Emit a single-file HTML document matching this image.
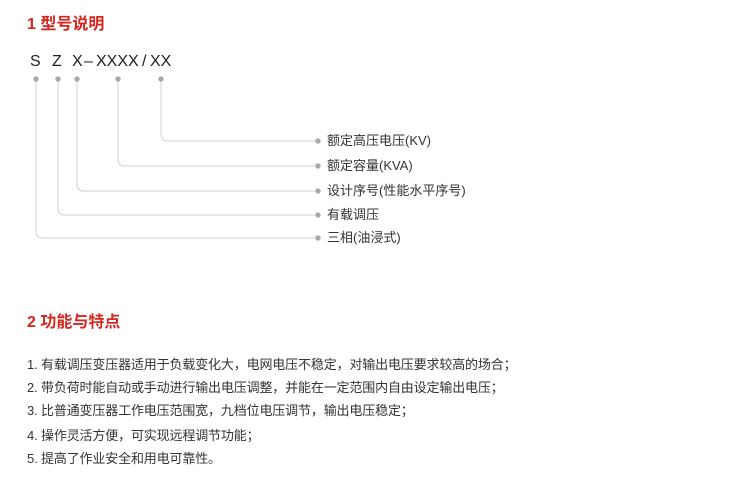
<!DOCTYPE html>
<html><head><meta charset="utf-8"><style>
body{margin:0;width:730px;height:485px;background:#fff;position:relative;overflow:hidden;font-family:"Liberation Sans","Noto Sans CJK SC",sans-serif;color:#333}
.t{position:absolute;left:27px;font-size:16px;font-weight:bold;color:#d7261e;line-height:20px}
.code{position:absolute;left:29px;top:52px;font-size:16px;line-height:20px;color:#222}
.lab{position:absolute;left:327px;font-size:13px;line-height:16px;color:#333}
.li{position:absolute;left:27px;font-size:13px;line-height:16px;color:#333;letter-spacing:-0.15px;white-space:nowrap}
</style></head><body>
<div class="t" style="top:15px">1 型号说明</div>
<div class="code"><span style="position:absolute;left:1px">S</span><span style="position:absolute;left:23px">Z</span><span style="position:absolute;left:43px">X</span><span style="position:absolute;left:55px">–</span><span style="position:absolute;left:67px">XXXX</span><span style="position:absolute;left:113px">/</span><span style="position:absolute;left:121px">XX</span></div>
<svg width="730" height="485" style="position:absolute;left:0;top:0" fill="none" stroke="#d0d0d0" stroke-width="1">
<path d="M161 79 V135 a6 6 0 0 0 6 6 H318"/>
<path d="M118 79 V160 a6 6 0 0 0 6 6 H318"/>
<path d="M77 79 V185 a6 6 0 0 0 6 6 H318"/>
<path d="M58 79 V209 a6 6 0 0 0 6 6 H318"/>
<path d="M36 79 V232 a6 6 0 0 0 6 6 H318"/>
<g fill="#aaa" stroke="none">
<circle cx="36" cy="79" r="2.7"/><circle cx="58" cy="79" r="2.7"/><circle cx="77" cy="79" r="2.7"/><circle cx="118" cy="79" r="2.7"/><circle cx="161" cy="79" r="2.7"/>
<circle cx="318" cy="141" r="2.7"/><circle cx="318" cy="166" r="2.7"/><circle cx="318" cy="191" r="2.7"/><circle cx="318" cy="215" r="2.7"/><circle cx="318" cy="238" r="2.7"/>
</g></svg>
<div class="lab" style="top:133px">额定高压电压(KV)</div>
<div class="lab" style="top:158px">额定容量(KVA)</div>
<div class="lab" style="top:183px">设计序号(性能水平序号)</div>
<div class="lab" style="top:207px">有载调压</div>
<div class="lab" style="top:230px">三相(油浸式)</div>
<div class="t" style="top:313px">2 功能与特点</div>
<div class="li" style="top:357px">1. 有载调压变压器适用于负载变化大，电网电压不稳定，对输出电压要求较高的场合；</div>
<div class="li" style="top:380px">2. 带负荷时能自动或手动进行输出电压调整，并能在一定范围内自由设定输出电压；</div>
<div class="li" style="top:403px">3. 比普通变压器工作电压范围宽，九档位电压调节，输出电压稳定；</div>
<div class="li" style="top:428px">4. 操作灵活方便，可实现远程调节功能；</div>
<div class="li" style="top:451px">5. 提高了作业安全和用电可靠性。</div>
</body></html>
